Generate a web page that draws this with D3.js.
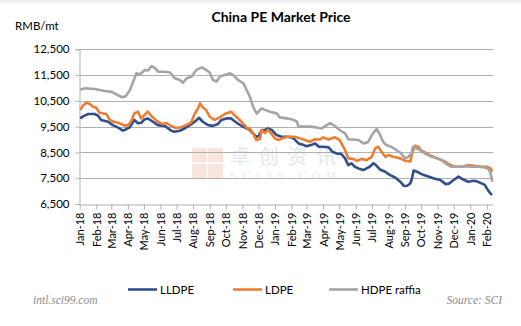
<!DOCTYPE html>
<html>
<head>
<meta charset="utf-8">
<script src="https://cdn.jsdelivr.net/npm/d3@7"></script>
<style>
  html, body { margin: 0; padding: 0; background: #fff; }
  svg { display: block; font-family: Lato, "Open Sans", "Noto Sans", sans-serif; }
</style>
</head>
<body>
<svg id="chart" width="521" height="326"></svg>
<script>
const title = "China PE Market Price";
const unitLabel = "RMB/mt";
const seriesNames = ["LLDPE", "LDPE", "HDPE raffia"];
const yTicks = [6500, 7500, 8500, 9500, 10500, 11500, 12500];

const lldpe = [
["2018-01-02",9820],["2018-01-08",9910],["2018-01-17",9990],["2018-01-29",9990],["2018-02-04",9930],
["2018-02-10",9760],["2018-02-23",9690],["2018-03-04",9560],["2018-03-13",9470],["2018-03-23",9345],
["2018-03-29",9400],["2018-04-05",9480],["2018-04-13",9760],["2018-04-20",9630],["2018-04-26",9650],
["2018-05-02",9780],["2018-05-08",9820],["2018-05-18",9690],["2018-05-27",9560],["2018-06-09",9530],
["2018-06-21",9345],["2018-06-27",9300],["2018-07-07",9340],["2018-07-16",9430],["2018-07-26",9560],
["2018-08-04",9690],["2018-08-12",9845],["2018-08-19",9690],["2018-08-29",9560],["2018-09-07",9530],
["2018-09-16",9600],["2018-09-23",9760],["2018-10-02",9820],["2018-10-11",9820],["2018-10-17",9720],
["2018-10-23",9630],["2018-10-31",9525],["2018-11-09",9430],["2018-11-15",9370],["2018-11-21",9240],
["2018-11-27",9100],["2018-12-02",9150],["2018-12-07",9370],["2018-12-13",9370],["2018-12-19",9430],
["2018-12-26",9370],["2019-01-04",9175],["2019-01-13",9110],["2019-01-23",9110],["2019-02-01",9085],
["2019-02-07",9000],["2019-02-14",8850],["2019-02-24",8785],["2019-03-01",8740],["2019-03-11",8800],
["2019-03-17",8850],["2019-03-24",8720],["2019-04-01",8720],["2019-04-11",8700],["2019-04-18",8530],
["2019-04-26",8460],["2019-05-05",8440],["2019-05-12",8270],["2019-05-18",8010],["2019-05-24",8080],
["2019-05-30",7945],["2019-06-06",7880],["2019-06-15",7815],["2019-06-21",7880],["2019-06-27",7945],
["2019-07-04",8080],["2019-07-10",7980],["2019-07-16",7840],["2019-07-26",7750],["2019-08-04",7620],
["2019-08-13",7540],["2019-08-23",7365],["2019-08-30",7200],["2019-09-05",7210],["2019-09-11",7300],
["2019-09-14",7490],["2019-09-17",7800],["2019-09-24",7750],["2019-09-30",7680],["2019-10-06",7620],
["2019-10-16",7560],["2019-10-25",7490],["2019-11-06",7430],["2019-11-16",7270],["2019-11-22",7290],
["2019-12-01",7430],["2019-12-10",7560],["2019-12-19",7450],["2019-12-28",7365],["2020-01-07",7400],
["2020-01-13",7380],["2020-01-22",7300],["2020-01-28",7240],["2020-02-03",7040],["2020-02-09",6880],
["2020-02-11",6860]
];

const ldpe = [
["2018-01-02",10145],["2018-01-08",10340],["2018-01-14",10430],["2018-01-20",10380],["2018-01-26",10275],
["2018-02-01",10230],["2018-02-07",10040],["2018-02-20",9990],["2018-02-26",9760],["2018-03-06",9690],
["2018-03-16",9630],["2018-03-26",9540],["2018-04-01",9560],["2018-04-07",9690],["2018-04-13",10015],
["2018-04-20",10080],["2018-04-26",9820],["2018-05-02",9950],["2018-05-08",10080],["2018-05-18",9850],
["2018-05-27",9690],["2018-06-05",9600],["2018-06-12",9640],["2018-06-21",9525],["2018-06-30",9450],
["2018-07-10",9480],["2018-07-19",9560],["2018-07-28",9650],["2018-08-04",10000],["2018-08-10",10200],
["2018-08-14",10400],["2018-08-19",10250],["2018-08-25",10150],["2018-09-01",9885],["2018-09-10",9760],
["2018-09-19",9850],["2018-09-29",9990],["2018-10-11",10080],["2018-10-17",9950],["2018-10-27",9760],
["2018-11-05",9560],["2018-11-12",9400],["2018-11-15",9430],["2018-11-21",9240],["2018-11-27",8980],
["2018-12-04",9020],["2018-12-07",9370],["2018-12-13",9250],["2018-12-19",9370],["2018-12-26",9200],
["2019-01-01",9045],["2019-01-07",8980],["2019-01-16",9060],["2019-01-26",9110],["2019-02-07",9110],
["2019-02-17",9045],["2019-02-26",8980],["2019-03-07",8915],["2019-03-17",9010],["2019-03-26",9000],
["2019-04-01",9085],["2019-04-11",9000],["2019-04-23",9085],["2019-05-02",8980],["2019-05-12",8590],
["2019-05-18",8270],["2019-05-27",8250],["2019-06-03",8170],["2019-06-12",8250],["2019-06-21",8200],
["2019-07-01",8330],["2019-07-07",8655],["2019-07-13",8720],["2019-07-20",8500],["2019-07-26",8330],
["2019-08-01",8400],["2019-08-10",8330],["2019-08-23",8270],["2019-09-01",8180],["2019-09-11",8150],
["2019-09-14",8450],["2019-09-20",8760],["2019-09-27",8700],["2019-09-30",8590],["2019-10-08",8500],
["2019-10-21",8360],["2019-11-03",8250],["2019-11-15",8140],["2019-11-25",8010],["2019-12-04",7945],
["2019-12-17",7945],["2019-12-29",8010],["2020-01-11",7970],["2020-01-23",7945],["2020-02-01",7945],
["2020-02-08",7880],["2020-02-11",7750]
];

const hdpe = [
["2018-01-02",10930],["2018-01-11",10985],["2018-01-29",10960],["2018-02-17",10880],["2018-03-02",10850],
["2018-03-13",10720],["2018-03-21",10640],["2018-03-28",10680],["2018-04-05",10920],["2018-04-11",11245],
["2018-04-17",11570],["2018-04-23",11520],["2018-05-03",11700],["2018-05-09",11680],["2018-05-15",11850],
["2018-05-21",11780],["2018-05-28",11630],["2018-06-09",11630],["2018-06-19",11600],["2018-06-28",11375],
["2018-07-07",11310],["2018-07-13",11205],["2018-07-20",11380],["2018-07-29",11440],["2018-08-07",11700],
["2018-08-17",11800],["2018-08-23",11730],["2018-09-01",11600],["2018-09-07",11310],["2018-09-14",11250],
["2018-09-20",11440],["2018-09-29",11500],["2018-10-09",11570],["2018-10-15",11500],["2018-10-24",11310],
["2018-11-03",11180],["2018-11-09",10920],["2018-11-15",10660],["2018-11-21",10280],["2018-11-28",10000],
["2018-12-02",10100],["2018-12-07",10210],["2018-12-13",10150],["2018-12-23",10080],["2019-01-04",10015],
["2019-01-10",9860],["2019-01-23",9820],["2019-02-02",9780],["2019-02-11",9690],["2019-02-14",9500],
["2019-02-21",9500],["2019-03-08",9500],["2019-03-20",9470],["2019-03-29",9430],["2019-04-08",9560],
["2019-04-14",9640],["2019-04-23",9525],["2019-05-02",9370],["2019-05-12",9240],["2019-05-18",9005],
["2019-05-27",9000],["2019-06-06",8980],["2019-06-15",8850],["2019-06-24",8900],["2019-07-01",9175],
["2019-07-10",9420],["2019-07-16",9200],["2019-07-22",8915],["2019-07-28",8785],["2019-08-06",8720],
["2019-08-16",8590],["2019-08-25",8460],["2019-09-01",8270],["2019-09-07",8330],["2019-09-13",8460],
["2019-09-16",8720],["2019-09-23",8650],["2019-09-29",8590],["2019-10-08",8460],["2019-10-21",8330],
["2019-10-30",8270],["2019-11-08",8200],["2019-11-20",8010],["2019-11-27",7945],["2019-12-10",7945],
["2019-12-22",7970],["2020-01-03",7945],["2020-01-15",7945],["2020-01-28",7920],["2020-02-03",7880],
["2020-02-08",7690],["2020-02-11",7360]
];

const colors = ["#2f4f8f", "#ed7d31", "#a5a5a5"];

const svg = d3.select("#chart");
const parse = d3.timeParse("%Y-%m-%d");

// top strip
svg.append("rect").attr("x", 0).attr("y", 0).attr("width", 521).attr("height", 3).attr("fill", "#efefef");

const x = d3.scaleTime()
  .domain([parse("2018-01-01"), parse("2020-02-13")])
  .range([79.7, 493.3]);
const y = d3.scaleLinear().domain([6500, 12500]).range([204, 49.3]);

// watermark
const wm = svg.append("g");
wm.append("rect").attr("x", 192).attr("y", 148).attr("width", 31).attr("height", 30).attr("fill", "#fbe4dc");
wm.append("line").attr("x1", 207.5).attr("x2", 207.5).attr("y1", 148).attr("y2", 178).attr("stroke", "#fff").attr("stroke-width", 1.5);
wm.append("line").attr("x1", 192).attr("x2", 223).attr("y1", 163).attr("y2", 163).attr("stroke", "#fff").attr("stroke-width", 1.5);
wm.append("text").attr("x", 230).attr("y", 164).attr("font-size", 20)
  .style("font-family", "'Noto Sans CJK SC', sans-serif").attr("fill", "#e1e8f1")
  .attr("textLength", 106).text("卓创资讯");
wm.append("text").attr("x", 230).attr("y", 179).attr("font-size", 11)
  .style("font-family", "'Liberation Serif', serif").attr("fill", "#ebebeb").attr("textLength", 106).text("SCI99.COM");

// gridlines
svg.append("g").selectAll("line").data(yTicks.slice(1)).join("line")
  .attr("x1", 79.7).attr("x2", 493.3)
  .attr("y1", d => Math.round(y(d)) + 0.5).attr("y2", d => Math.round(y(d)) + 0.5)
  .attr("stroke", "#b0b0b0").attr("stroke-width", 1);

// y axis
const yAxis = d3.axisLeft(y).tickValues(yTicks).tickSize(4).tickPadding(6)
  .tickFormat(d3.format(","));
const gy = svg.append("g").attr("transform", "translate(79.5,0)").call(yAxis);
gy.select(".domain").attr("stroke", "#b0b0b0");
gy.selectAll(".tick line").attr("stroke", "#b0b0b0");
gy.selectAll(".tick text").attr("font-size", 11.5).attr("fill", "#000")
  .style("font-family", "Lato, sans-serif");

// x axis
const months = d3.timeMonth.range(parse("2018-01-01"), parse("2020-02-13"));
const xAxis = d3.axisBottom(x).tickValues(months).tickSize(5).tickPadding(6)
  .tickFormat(d3.timeFormat("%b-%y"));
const gx = svg.append("g").attr("transform", "translate(0,204.5)").call(xAxis);
gx.select(".domain").attr("stroke", "#b0b0b0").attr("d", "M79.7,0.5H493.3");
gx.selectAll(".tick line").attr("stroke", "#b0b0b0");
gx.selectAll(".tick text").attr("font-size", 11).attr("fill", "#000")
  .style("font-family", "Lato, sans-serif")
  .attr("text-anchor", "end")
  .attr("transform", "rotate(-90)")
  .attr("x", -8).attr("y", 0).attr("dy", "0.35em");

// lines
const line = d3.line().x(d => x(parse(d[0]))).y(d => y(d[1]));
[lldpe, ldpe, hdpe].forEach((s, i) => {
  svg.append("path").datum(s).attr("d", line).attr("fill", "none")
    .attr("stroke", colors[i]).attr("stroke-width", 2.6)
    .attr("stroke-linejoin", "round").attr("stroke-linecap", "butt");
});

// title
svg.append("text").attr("x", 281).attr("y", 21.5).attr("text-anchor", "middle")
  .attr("font-size", 14).attr("font-weight", "bold").attr("fill", "#000").text(title);
svg.append("text").attr("x", 15).attr("y", 29.5).attr("font-size", 11.5).attr("fill", "#000").text(unitLabel);

// legend
const legendX = [128, 233, 329];
const lg = svg.append("g");
seriesNames.forEach((n, i) => {
  lg.append("line").attr("x1", legendX[i]).attr("x2", legendX[i] + 29)
    .attr("y1", 289.5).attr("y2", 289.5).attr("stroke", colors[i]).attr("stroke-width", 2.6);
  lg.append("text").attr("x", legendX[i] + 32).attr("y", 293.5).attr("font-size", 11.5)
    .attr("fill", "#000").text(n);
});

// footer
svg.append("text").attr("x", 33).attr("y", 304).attr("font-size", 11.5).attr("font-style", "italic")
  .style("font-family", "'Liberation Serif', serif").attr("fill", "#8c8c8c").text("intl.sci99.com");
svg.append("text").attr("x", 502).attr("y", 304).attr("text-anchor", "end").attr("font-size", 11.5).attr("font-style", "italic")
  .style("font-family", "'Liberation Serif', serif").attr("fill", "#8c8c8c").text("Source: SCI");
</script>
</body>
</html>
